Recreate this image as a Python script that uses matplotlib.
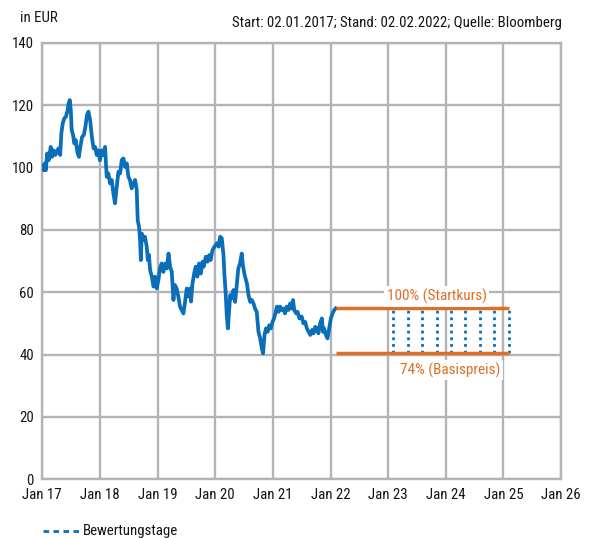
import matplotlib.pyplot as plt
from matplotlib import font_manager

# price history, decimal years since Jan 2017, EUR
t_hist = [0.00, 0.017, 0.03, 0.045, 0.06, 0.084, 0.11, 0.146, 0.17, 0.197, 0.225, 0.253, 0.28, 0.31,
          0.33, 0.354, 0.38, 0.41, 0.44, 0.455, 0.477, 0.494, 0.51, 0.534, 0.555, 0.58, 0.607, 0.635,
          0.66, 0.69, 0.72, 0.747, 0.775, 0.80, 0.83, 0.86, 0.89, 0.916, 0.945, 0.97, 1.0, 1.03,
          1.06, 1.089, 1.117, 1.146, 1.175, 1.204, 1.233, 1.262, 1.291, 1.32, 1.35, 1.378, 1.407, 1.436,
          1.465, 1.494, 1.52, 1.55, 1.58, 1.61, 1.638, 1.655, 1.678, 1.696, 1.71, 1.725, 1.754, 1.78,
          1.812, 1.83, 1.85, 1.87, 1.90, 1.93, 1.957, 1.985, 2.014, 2.04, 2.07, 2.10, 2.13, 2.16,
          2.19, 2.217, 2.246, 2.275, 2.30, 2.33, 2.36, 2.39, 2.42, 2.448, 2.477, 2.506, 2.535, 2.564,
          2.58, 2.605, 2.64, 2.662, 2.69, 2.72, 2.749, 2.78, 2.80, 2.836, 2.865, 2.894, 2.92, 2.952,
          2.987, 3.03, 3.06, 3.085, 3.114, 3.143, 3.16, 3.18, 3.20, 3.22, 3.24, 3.26, 3.29, 3.316,
          3.345, 3.374, 3.40, 3.43, 3.46, 3.48, 3.51, 3.55, 3.577, 3.606, 3.635, 3.664, 3.69, 3.72,
          3.75, 3.78, 3.808, 3.83, 3.855, 3.88, 3.91, 3.936, 3.965, 3.994, 4.02, 4.05, 4.07, 4.10,
          4.126, 4.155, 4.184, 4.21, 4.24, 4.27, 4.30, 4.33, 4.35, 4.37, 4.406, 4.43, 4.46, 4.50,
          4.53, 4.56, 4.59, 4.62, 4.65, 4.68, 4.706, 4.735, 4.763, 4.79, 4.82, 4.85, 4.87, 4.89,
          4.92, 4.948, 4.977, 5.006, 5.035, 5.064, 5.09]
price = [99.5, 100.7, 99.1, 101.3, 99.1, 104.5, 102.3, 106.6, 103.4, 105.5, 104, 105, 106.1, 104,
         110.9, 114.1, 115.7, 116.3, 118.4, 120.5, 121.6, 118.4, 112, 110.4, 107.7, 108.8, 105, 103.4,
         106.6, 109.8, 110.4, 113, 116.8, 117.9, 115.2, 109.8, 106.1, 106.6, 104, 105.5, 102.3, 105.5,
         104, 106.6, 97.0, 98.1, 94.9, 96, 91.7, 88.5, 93.8, 98.6, 98.1, 102.4, 102.9, 100.2,
         101.3, 97, 96, 93.3, 94.9, 96, 92.8, 83.1, 81, 76.7, 70.3, 78.8, 76.7, 77.8,
         74.6, 70.3, 72, 67.1, 65, 61.8, 65.0, 61.2, 63.9, 67.6, 69.2, 66.5, 69.2, 67.6,
         72.4, 68.2, 66.5, 57.5, 62.3, 61.2, 58.6, 55.3, 54.3, 53.2, 57.0, 61.2, 58.6, 61.2,
         57.0, 62.8, 66.5, 68.2, 65, 69.2, 66, 69.8, 68.2, 71.4, 69.8, 71.9, 70.3, 73.5,
         74.6, 75.7, 74.6, 77.8, 77.3, 71.9, 65.5, 60.1, 52.7, 48.4, 53.7, 59.1, 58.0, 60.7,
         56.9, 62.3, 67.6, 69.2, 72.4, 68.7, 65.5, 62.8, 59.1, 56.9, 57.5, 56.4, 54.8, 53.7,
         47.3, 45.2, 42.0, 40.4, 46.3, 48.4, 47.3, 49.4, 48.4, 50.5, 51.6, 53.7, 55.4, 53.7,
         55.4, 54.3, 54.8, 53.2, 55.4, 54.3, 56.4, 54.8, 57.5, 54.3, 53.2, 53.7, 51.6, 52.2,
         50.0, 50.5, 48.4, 47.3, 46.3, 47.9, 46.8, 48.9, 48.4, 46.8, 50.0, 51.6, 47.3, 48.4,
         46.3, 45.2, 48.4, 51.6, 53.2, 54.3, 54.8]

start_level = 54.8
barrier_pct = 0.74
t_start, t_end = 5.1, 8.09
obs_dates = [6.09, 6.34, 6.59, 6.84, 7.09, 7.34, 7.59, 7.84, 8.09]

year_ticks = list(range(2017, 2027))
year_labels = ["Jan %02d" % (y % 100) for y in year_ticks]
y_ticks = [0, 20, 40, 60, 80, 100, 120, 140]

blue = "#0a6fb8"
orange = "#de6f24"
grid_c = "#b4b4b8"
txt_c = "#141414"

# condensed face like the original layout
installed = {f.name for f in font_manager.fontManager.ttflist}
font = next((n for n in ['Roboto Condensed', 'Archivo Narrow', 'PT Sans Narrow',
                         'Fira Sans Condensed'] if n in installed), 'DejaVu Sans')
plt.rcParams['font.family'] = [font, 'DejaVu Sans']

fig = plt.figure(figsize=(5.95, 5.38), dpi=100)
ax = fig.add_axes([0.0711, 0.109, 0.8719, 0.8116])

x = [2017 + v for v in t_hist]
ax.plot(x, price, color=blue, lw=2.7, solid_joinstyle='round', zorder=4)

barrier = start_level * barrier_pct
ax.hlines([start_level, barrier], 2017 + t_start, 2017 + t_end, color=orange, lw=2.5, zorder=4)
ax.vlines([2017 + d for d in obs_dates], barrier, start_level, color=blue, lw=2,
          linestyles=(0, (1, 1.4)), zorder=3)

ax.text(2017 + 6.84, start_level + 3.9, "100% (Startkurs)", color=orange, fontsize=11,
        ha='center', va='center', zorder=5,
        bbox=dict(facecolor='white', edgecolor='none', pad=2))
ax.text(2017 + 7.07, barrier - 5.5, "74% (Basispreis)", color=orange, fontsize=11,
        ha='center', va='center', zorder=5,
        bbox=dict(facecolor='white', edgecolor='none', pad=2))

ax.set_xlim(2017, 2026)
ax.set_ylim(0, 140)
ax.set_xticks(year_ticks)
ax.set_xticklabels(year_labels)
ax.set_yticks(y_ticks)
ax.grid(True, color=grid_c, lw=1.7, zorder=0)
ax.set_axisbelow(True)
for s in ax.spines.values():
    s.set_color(grid_c)
    s.set_linewidth(1.7)
ax.tick_params(length=0, labelsize=10.7, colors=txt_c, pad=6)

fig.text(0.034, 0.967, "in EUR", fontsize=10.7, color=txt_c, va='center')
fig.text(0.944, 0.958, "Start: 02.01.2017; Stand: 02.02.2022; Quelle: Bloomberg",
         fontsize=10.7, color=txt_c, va='center', ha='right')

fig.lines.append(plt.Line2D([0.073, 0.137], [0.013, 0.013], transform=fig.transFigure,
                            color=blue, lw=2, linestyle=(0, (2, 1.6))))
fig.text(0.14, 0.013, "Bewertungstage", fontsize=10.7, color=txt_c, va='center')

fig.savefig("out.png", dpi=100)
